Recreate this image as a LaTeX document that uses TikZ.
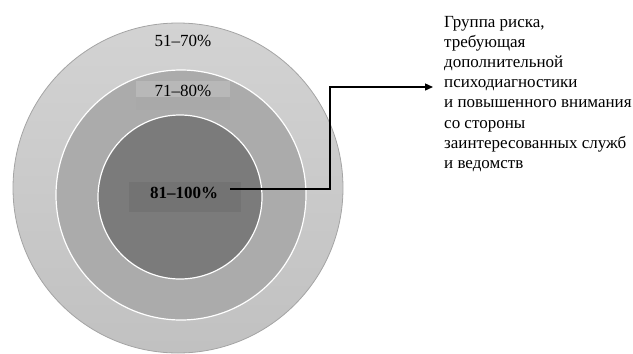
\documentclass[tikz,border=0pt]{standalone}
\usepackage{fontspec}
\setmainfont{Liberation Serif}
\usetikzlibrary{arrows.meta}
\definecolor{ringA}{HTML}{CBCBCB}
\definecolor{ringAedge}{HTML}{A4A4A4}
\definecolor{ringB}{HTML}{ABABAB}
\definecolor{ringC}{HTML}{7B7B7B}
\definecolor{boxBtop}{HTML}{B8B8B8}
\definecolor{boxBbot}{HTML}{A9A9A9}
\definecolor{boxC}{HTML}{737373}
\tikzset{
  ring/.style={circle, inner sep=0pt, draw=white, line width=1.2pt},
  lbl/.style={inner sep=0pt, anchor=base, font=\fontsize{17}{20}\selectfont},
  patch/.style={inner sep=0pt, draw=none, anchor=north west},
  conn/.style={line width=1.4pt, -{Triangle[length=8pt,width=7pt]}},
}
\begin{document}
\begin{tikzpicture}[x=1pt,y=-1pt]
\useasboundingbox (0,0) rectangle (633,354);
% rings
\node[ring, draw=ringAedge, line width=0.8pt, top color=ringA!85!white, bottom color=ringA!95!black, minimum size=330pt] (outer) at (178,188) {};
\node[ring, fill=ringB, minimum size=250pt] (middle) at (181,195) {};
\node[ring, fill=ringC, minimum size=164pt] (inner) at (180,197) {};
% label patches
\node[patch, fill=boxBtop, minimum width=94pt, minimum height=16pt] (pb1) at (136,81) {};
\node[patch, fill=boxBbot, minimum width=94pt, minimum height=13pt] (pb2) at (136,97) {};
\node[patch, fill=boxC, minimum width=112pt, minimum height=30pt] (pc) at (129,182) {};
% labels
\node[lbl] (l1) at (183,46) {51–70\%};
\node[lbl] (l2) at (183,96.5) {71–80\%};
\node[lbl, font=\fontsize{17}{20}\selectfont\bfseries] (l3) at (184,198) {81–100\%};
% description (base anchor = baseline of last line)
\node[inner sep=0pt, anchor=base west, align=left, font=\fontsize{17}{20.2}\selectfont] (desc) at (444,168.4)
  {Группа риска,\\требующая\\дополнительной\\психодиагностики\\и повышенного внимания\\со стороны\\заинтересованных служб\\и ведомств};
% connector
\coordinate (s) at (230,189);
\coordinate (k) at (330,87);
\coordinate (e) at (433,87);
\draw[conn] (s) -| (k) -- (e);
\end{tikzpicture}
\end{document}
